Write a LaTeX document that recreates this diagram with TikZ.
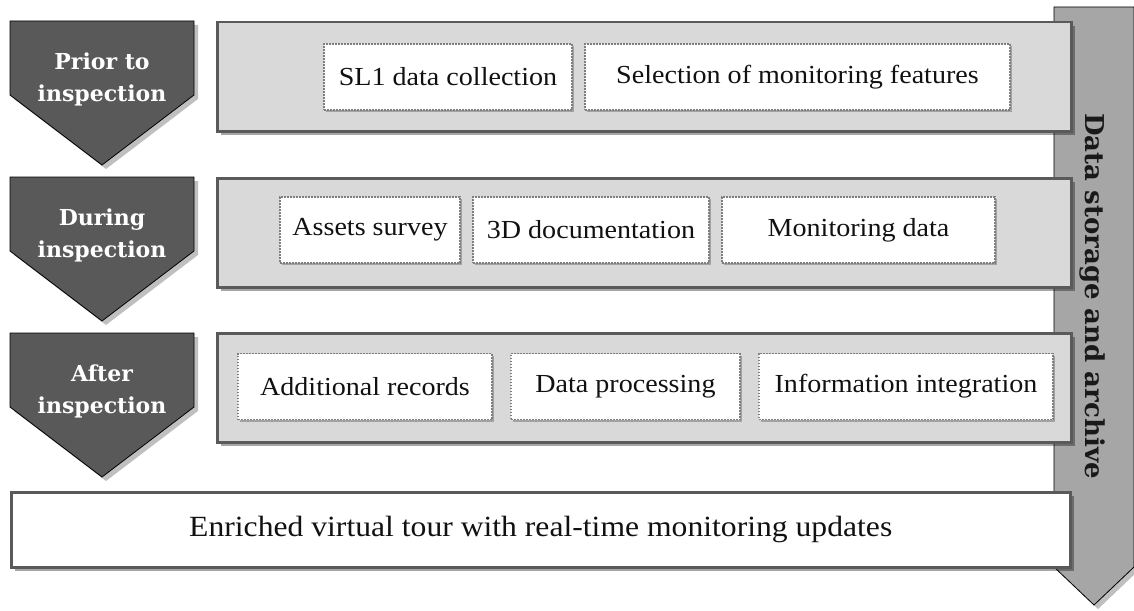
\documentclass[tikz,border=0pt]{standalone}
\usepackage{fontspec}
\setmainfont{DejaVu Serif}
\newfontfamily\geo[FakeStretch=1.08]{Liberation Serif}
\usetikzlibrary{shadows}
\definecolor{cDark}{HTML}{595959}
\definecolor{cChevShadow}{HTML}{BFBFBF}
\definecolor{cPanel}{HTML}{D9D9D9}
\definecolor{cBorder}{HTML}{5A5A5A}
\definecolor{cArrow}{HTML}{A6A6A6}
\definecolor{cDot}{HTML}{7F7F7F}
\definecolor{cText}{HTML}{111111}
\begin{document}
\begin{tikzpicture}[x=1pt,y=-1pt,
  chev/.style={fill=cDark, draw=black, line width=0.8pt, line join=miter},
  chevshadow/.style={fill=cChevShadow},
  chevtext/.style={text=white, align=center, inner sep=0pt,
    font=\bfseries\fontsize{22}{32}\selectfont},
  panel/.style={fill=cPanel, draw=cBorder, line width=2.5pt, anchor=north west,
    minimum width=854pt, minimum height=109pt, inner sep=0pt,
    drop shadow={shadow xshift=4pt, shadow yshift=-4pt, fill=black, opacity=0.35}},
  itembox/.style={fill=white, draw=cDot, line width=1.6pt,
    dash pattern=on 1.6pt off 1.4pt, minimum height=66pt, inner sep=0pt,
    text=cText, font=\geo\fontsize{26}{30}\selectfont,
    drop shadow={shadow xshift=1.5pt, shadow yshift=-2pt, fill=black, opacity=0.25}},
  bottombox/.style={fill=white, draw=cBorder, line width=2.5pt, anchor=north west,
    minimum width=1059pt, minimum height=75pt, inner sep=0pt, text=cText,
    font=\geo\fontsize{29.3}{34}\selectfont,
    drop shadow={shadow xshift=4pt, shadow yshift=-4pt, fill=black, opacity=0.35}},
  arrowshape/.style={fill=cArrow, draw=black, line width=0.8pt},
  arrowtext/.style={rotate=-90, text=black!90, inner sep=0pt,
    font=\bfseries\fontsize{26}{30}\selectfont}
]
\useasboundingbox (0,0) rectangle (1134,610);

% big right arrow (behind everything)
\fill[chevshadow] (1058,11) -- (1138,11) -- (1138,571) -- (1098,609) -- (1058,571) -- cycle;
\draw[arrowshape] (1054,7) -- (1134,7) -- (1134,567) -- (1094,605) -- (1054,567) -- cycle;
\node[arrowtext] (store) at (1092,296) {Data storage and archive};

% chevrons
\foreach \T/\nm/\lab in {21/c1/{Prior to\\inspection}, 177/c2/{During\\inspection}, 333/c3/{After\\inspection}}{
  \fill[chevshadow] (14,\T+4) -- (198,\T+4) -- (198,\T+78) -- (106,\T+148) -- (14,\T+78) -- cycle;
  \draw[chev] (10,\T) -- (194,\T) -- (194,\T+74) -- (102,\T+144) -- (10,\T+74) -- cycle;
  \node[chevtext] (\nm) at (102,\T+58) {\lab};
}

% panels
\node[panel] (p1) at (216,21) {};
\node[panel] (p2) at (216,177) {};
\node[panel] (p3) at (216,332) {};

% items panel 1
\node[itembox, minimum width=248pt] (sl1) at (448,77) {SL1 data collection};
\node[itembox, minimum width=425pt] (sel) at (797.5,77) {Selection of monitoring features};

% items panel 2
\node[itembox, minimum width=180pt] (ass) at (370,230) {Assets survey};
\node[itembox, minimum width=236pt] (doc) at (591,230) {3D documentation};
\node[itembox, minimum width=273pt] (mon) at (858.5,230) {Monitoring data};

% items panel 3
\node[itembox, minimum width=254pt] (add) at (365,386.5) {Additional records};
\node[itembox, minimum width=229pt] (proc) at (625.5,386.5) {Data processing};
\node[itembox, minimum width=294pt] (info) at (906,386.5) {Information integration};

% bottom box
\node[bottombox] (tour) at (10,491) {Enriched virtual tour with real-time monitoring updates};
\end{tikzpicture}
\end{document}
